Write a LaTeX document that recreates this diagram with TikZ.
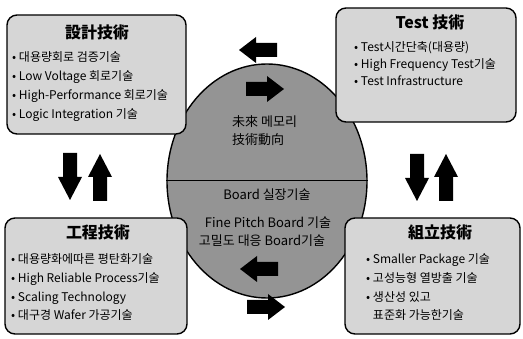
\documentclass[tikz,border=0pt]{standalone}
\usepackage{fontspec}
\usetikzlibrary{shapes.geometric}
\setmainfont{Noto Sans CJK KR}
\begin{document}
\begin{tikzpicture}[x=1pt,y=-1pt,
  techbox/.style={draw=black,line width=1.4pt,rounded corners=10pt,fill=black!16},
  core/.style={draw=black,line width=1.4pt,fill=black!42},
  titletext/.style={font=\fontsize{16}{18}\selectfont\bfseries,inner sep=0pt},
  item/.style={font=\fontsize{12}{14}\selectfont,anchor=base west,inner sep=0pt},
  coretext/.style={font=\fontsize{13}{14}\selectfont,inner sep=0pt},
  harrow/.pic={\fill[black] (0,-7) -- (21,-7) -- (21,-13) -- (38,0) -- (21,13) -- (21,7) -- (0,7) -- cycle;},
  varrow/.pic={\fill[black] (0,-7) -- (24,-7) -- (24,-12) -- (47,0) -- (24,12) -- (24,7) -- (0,7) -- cycle;}
]
\useasboundingbox (0,0) rectangle (523,339);
% central ellipse
\node[core,ellipse,minimum width=200pt,minimum height=234pt,inner sep=0pt] (core) at (267,181) {};
\draw[line width=1pt] (core.west) -- (core.east);
% boxes
\draw[techbox] (7,15) rectangle (186,134);
\draw[techbox] (336,8) rectangle (516,122);
\draw[techbox] (5,218) rectangle (187,334);
\draw[techbox] (345,218) rectangle (520,334);
% titles
\node[titletext] (t1) at (97,32) {設計技術};
\node[titletext] (t2) at (430,22) {Test 技術};
\node[titletext] (t3) at (98,232) {工程技術};
\node[titletext] (t4) at (440,232) {組立技術};
% top-left items
\node[item] (a1) at (12,62) {• 대용량회로 검증기술};
\node[item] (a2) at (12,81) {• Low Voltage 회로기술};
\node[item] (a3) at (12,100) {• High-Performance 회로기술};
\node[item] (a4) at (12,119) {• Logic Integration 기술};
% top-right items
\node[item] (b1) at (354,52) {• Test시간단축(대용량)};
\node[item] (b2) at (354,69) {• High Frequency Test기술};
\node[item] (b3) at (354,86) {• Test Infrastructure};
% bottom-left items
\node[item] (c1) at (11,264) {• 대용량화에따른 평탄화기술};
\node[item] (c2) at (11,283) {• High Reliable Process기술};
\node[item] (c3) at (11,302) {• Scaling Technology};
\node[item] (c4) at (11,320) {• 대구경 Wafer 가공기술};
% bottom-right items
\node[item] (d1) at (366,264) {• Smaller Package 기술};
\node[item] (d2) at (366,283) {• 고성능형 열방출 기술};
\node[item] (d3) at (366,302) {• 생산성 있고};
\node[item] (d4) at (366,320) {\phantom{• }표준화 가능한기술};
% core texts
\node[coretext,anchor=west] (e1) at (232,122) {未來 메모리};
\node[coretext,anchor=west] (e2) at (232,140) {技術動向};
\node[coretext] (e3) at (267,195) {Board 실장기술};
\node[coretext] (e4) at (268,223) {Fine Pitch Board 기술};
\node[coretext] (e5) at (262,241) {고밀도 대응 Board기술};
% arrows
\pic[rotate=180] at (277,50) {harrow};
\pic at (246,89) {harrow};
\pic[rotate=180] at (278,269) {harrow};
\pic at (247,307) {harrow};
\pic[rotate=-90] at (70,153) {varrow};
\pic[rotate=90] at (100,201) {varrow};
\pic[rotate=-90] at (417,154) {varrow};
\pic[rotate=90] at (446,201) {varrow};
\end{tikzpicture}
\end{document}
